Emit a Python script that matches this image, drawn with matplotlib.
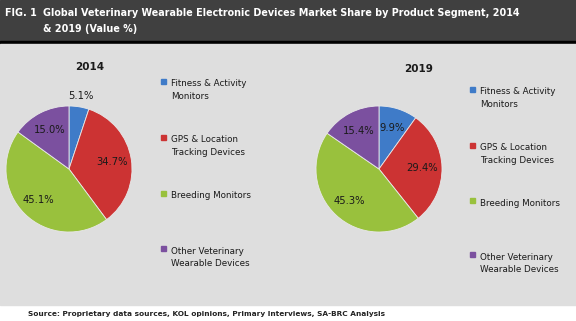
import numpy as np
import matplotlib.pyplot as plt
from matplotlib.patches import Rectangle

W, H = 576, 321

categories = [
    "Fitness & Activity\nMonitors",
    "GPS & Location\nTracking Devices",
    "Breeding Monitors",
    "Other Veterinary\nWearable Devices",
]
share_2014 = [5.1, 34.7, 45.1, 15.0]
share_2019 = [9.9, 29.4, 45.3, 15.4]
colors = ["#3f7bc8", "#cc3333", "#99c13d", "#7b509f"]

title = "Global Veterinary Wearable Electronic Devices Market Share by Product Segment, 2014\n& 2019 (Value %)"
source = "Source: Proprietary data sources, KOL opinions, Primary Interviews, SA-BRC Analysis"

fig = plt.figure(figsize=(W / 100, H / 100), dpi=100)
fig.patch.set_facecolor("white")


def fx(x):
    return x / W


def fy(y):
    return 1 - y / H


# header band, black rule and grey panel
fig.add_artist(Rectangle((0, fy(41)), 1, 41 / H, transform=fig.transFigure,
                         color="#404040", zorder=0))
fig.add_artist(Rectangle((0, fy(43.5)), 1, 2.5 / H, transform=fig.transFigure,
                         color="black", zorder=0))
fig.add_artist(Rectangle((0, fy(305)), 1, (305 - 43.5) / H, transform=fig.transFigure,
                         color="#dedede", zorder=0))

fig.text(fx(5), fy(13), "FIG. 1", color="white", fontsize=6.9, weight="bold",
         va="center", ha="left")
fig.text(fx(43), fy(21.5), title, color="white", fontsize=6.9, weight="bold",
         va="center", ha="left", linespacing=1.75)

fig.text(fx(28), fy(314), source, color="#222222", fontsize=5.3, weight="bold",
         va="center", ha="left")


def draw_pie(values, cx, cy, r, year, tx, ty, legend_x, legend_y):
    ax = fig.add_axes([fx(cx - r), fy(cy + r), 2 * r / W, 2 * r / H])
    wedges, _ = ax.pie(values, colors=colors, startangle=90, counterclock=False,
                       wedgeprops=dict(edgecolor="#e8e8e8", linewidth=0.6))
    ax.set_xlim(-1, 1)
    ax.set_ylim(-1, 1)
    for w, v in zip(wedges, values):
        ang = np.deg2rad((w.theta1 + w.theta2) / 2)
        d = 1.17 if v < 6 else 0.69
        ax.text(d * np.cos(ang), d * np.sin(ang), f"{v:.1f}%", ha="center",
                va="center", fontsize=7.2, color="#1a1a1a")
    fig.text(fx(tx), fy(ty), year, ha="center", va="center", fontsize=7.5,
             weight="bold", color="#1a1a1a")
    for lbl, c, ly in zip(categories, colors, legend_y):
        fig.add_artist(Rectangle((fx(legend_x), fy(ly + 2.5)), 5 / W, 5 / H,
                                 transform=fig.transFigure, color=c))
        fig.text(fx(legend_x + 10), fy(ly - 1.5), lbl, ha="left", va="top",
                 fontsize=6.3, color="#1a1a1a", linespacing=1.5)


draw_pie(share_2014, 69, 169, 63, "2014", 90, 67, 161, [81, 137, 193, 248])
draw_pie(share_2019, 379, 169, 63, "2019", 419, 69, 470, [89, 145, 200, 254])

fig.savefig("out.png", dpi=100, facecolor="white")
